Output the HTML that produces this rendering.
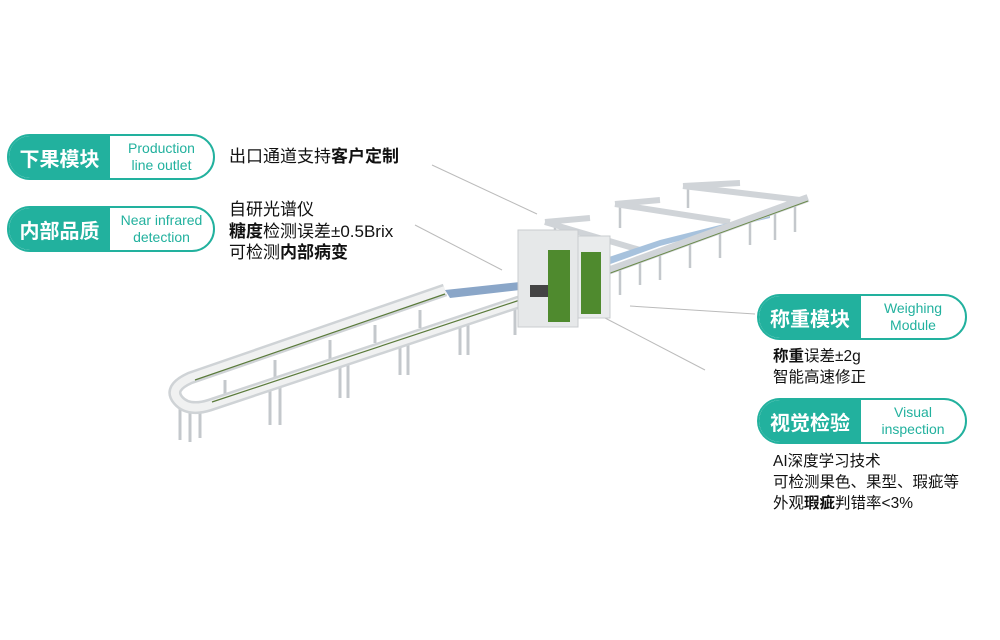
<!DOCTYPE html>
<html><head><meta charset="utf-8"><style>
html,body{margin:0;padding:0;background:#fff;}
body{width:1000px;height:640px;position:relative;overflow:hidden;font-family:"Liberation Sans","Noto Sans CJK SC",sans-serif;}
.pill{position:absolute;height:42px;border:2px solid #22b19e;border-radius:24px;background:#fff;overflow:hidden;}
.pill .l{position:absolute;left:0;top:0;bottom:0;background:#22b19e;color:#fff;font-weight:bold;font-size:20px;display:flex;align-items:center;justify-content:center;}
.pill .r{position:absolute;top:0;bottom:0;right:0;color:#22b19e;font-size:14px;line-height:17px;display:flex;align-items:center;justify-content:center;text-align:center;}
.t{position:absolute;color:#111;font-size:17px;line-height:21px;}
b{font-weight:bold;}
svg{position:absolute;left:0;top:0;}
</style></head><body>
<svg width="1000" height="640">
<g stroke="#bbb" stroke-width="1">
<line x1="432" y1="165" x2="537" y2="214"/>
<line x1="415" y1="225" x2="502" y2="270"/>
<line x1="630" y1="306" x2="755" y2="314"/>
<line x1="605" y1="318" x2="705" y2="370"/>
</g>
<g stroke="#c4c8cc" stroke-width="3">
<line x1="180" y1="400" x2="180" y2="440"/><line x1="190" y1="405" x2="190" y2="442"/><line x1="200" y1="408" x2="200" y2="438"/>
<line x1="270" y1="390" x2="270" y2="425"/><line x1="280" y1="388" x2="280" y2="425"/>
<line x1="340" y1="365" x2="340" y2="398"/><line x1="348" y1="362" x2="348" y2="398"/>
<line x1="400" y1="345" x2="400" y2="375"/><line x1="408" y1="342" x2="408" y2="375"/>
<line x1="460" y1="325" x2="460" y2="355"/><line x1="468" y1="322" x2="468" y2="355"/>
<line x1="515" y1="305" x2="515" y2="335"/>
<line x1="225" y1="380" x2="225" y2="395"/><line x1="275" y1="360" x2="275" y2="378"/><line x1="330" y1="340" x2="330" y2="360"/><line x1="375" y1="325" x2="375" y2="343"/><line x1="420" y1="310" x2="420" y2="328"/>
</g>
<path d="M445,290 L190,378 Q168,388 178,400 Q188,412 210,405 L525,300" fill="none" stroke="#cfd3d6" stroke-width="13" stroke-linejoin="round"/>
<path d="M445,290 L190,378 Q168,388 178,400 Q188,412 210,405 L525,300" fill="none" stroke="#f0f1f1" stroke-width="8"/>
<path d="M445,294 L195,380 M212,402 L520,300" stroke="#5a7a3a" stroke-width="1.2"/>
<path d="M445,290 L520,282 L520,290 L450,298 Z" fill="#8aa6c8"/>
<g stroke="#c4c8cc" stroke-width="2.5">
<line x1="620" y1="270" x2="620" y2="295"/><line x1="640" y1="262" x2="640" y2="285"/><line x1="660" y1="255" x2="660" y2="280"/><line x1="690" y1="244" x2="690" y2="268"/><line x1="720" y1="233" x2="720" y2="258"/><line x1="750" y1="222" x2="750" y2="245"/><line x1="775" y1="213" x2="775" y2="240"/><line x1="795" y1="206" x2="795" y2="232"/>
<line x1="555" y1="225" x2="555" y2="245"/><line x1="620" y1="205" x2="620" y2="228"/><line x1="688" y1="188" x2="688" y2="208"/>
</g>
<g stroke="#d0d4d8" stroke-width="6">
<line x1="545" y1="222" x2="640" y2="250"/><line x1="545" y1="222" x2="590" y2="218"/>
<line x1="615" y1="204" x2="730" y2="222"/><line x1="615" y1="204" x2="660" y2="200"/>
<line x1="683" y1="186" x2="800" y2="200"/><line x1="683" y1="186" x2="740" y2="183"/>
</g>
<path d="M600,260 L660,240 L720,225 L770,212 L770,218 L720,230 L660,246 L605,266Z" fill="#a7c2dd"/>
<path d="M605,272 L808,198" stroke="#d0d4d8" stroke-width="8"/>
<path d="M605,275 L808,201" stroke="#6a8a4a" stroke-width="1"/>
<rect x="518" y="230" width="60" height="97" fill="#e6e8e9" stroke="#c9cccf"/>
<rect x="548" y="250" width="22" height="72" fill="#4f8a2e"/>
<rect x="578" y="236" width="32" height="82" fill="#e9ebec" stroke="#c9cccf"/>
<rect x="581" y="252" width="20" height="62" fill="#4f8a2e"/>
<rect x="530" y="285" width="18" height="12" fill="#444"/>
</svg>

<div class="pill" style="left:7px;top:134px;width:204px;"><div class="l" style="width:101px;">下果模块</div><div class="r" style="left:101px;">Production<br>line outlet</div></div>
<div class="pill" style="left:7px;top:206px;width:204px;"><div class="l" style="width:101px;">内部品质</div><div class="r" style="left:101px;">Near infrared<br>detection</div></div>
<div class="pill" style="left:757px;top:294px;width:206px;"><div class="l" style="width:102px;">称重模块</div><div class="r" style="left:102px;">Weighing<br>Module</div></div>
<div class="pill" style="left:757px;top:398px;width:206px;"><div class="l" style="width:102px;">视觉检验</div><div class="r" style="left:102px;">Visual<br>inspection</div></div>

<div class="t" style="left:229px;top:146px;">出口通道支持<b>客户定制</b></div>
<div class="t" style="left:229px;top:199px;line-height:21.5px;">自研光谱仪<br><b>糖度</b>检测误差±0.5Brix<br>可检测<b>内部病变</b></div>
<div class="t" style="left:773px;top:346px;font-size:15.5px;"><b>称重</b>误差±2g<br>智能高速修正</div>
<div class="t" style="left:773px;top:451px;font-size:15.5px;">AI深度学习技术<br>可检测果色、果型、瑕疵等<br>外观<b>瑕疵</b>判错率&lt;3%</div>
</body></html>
